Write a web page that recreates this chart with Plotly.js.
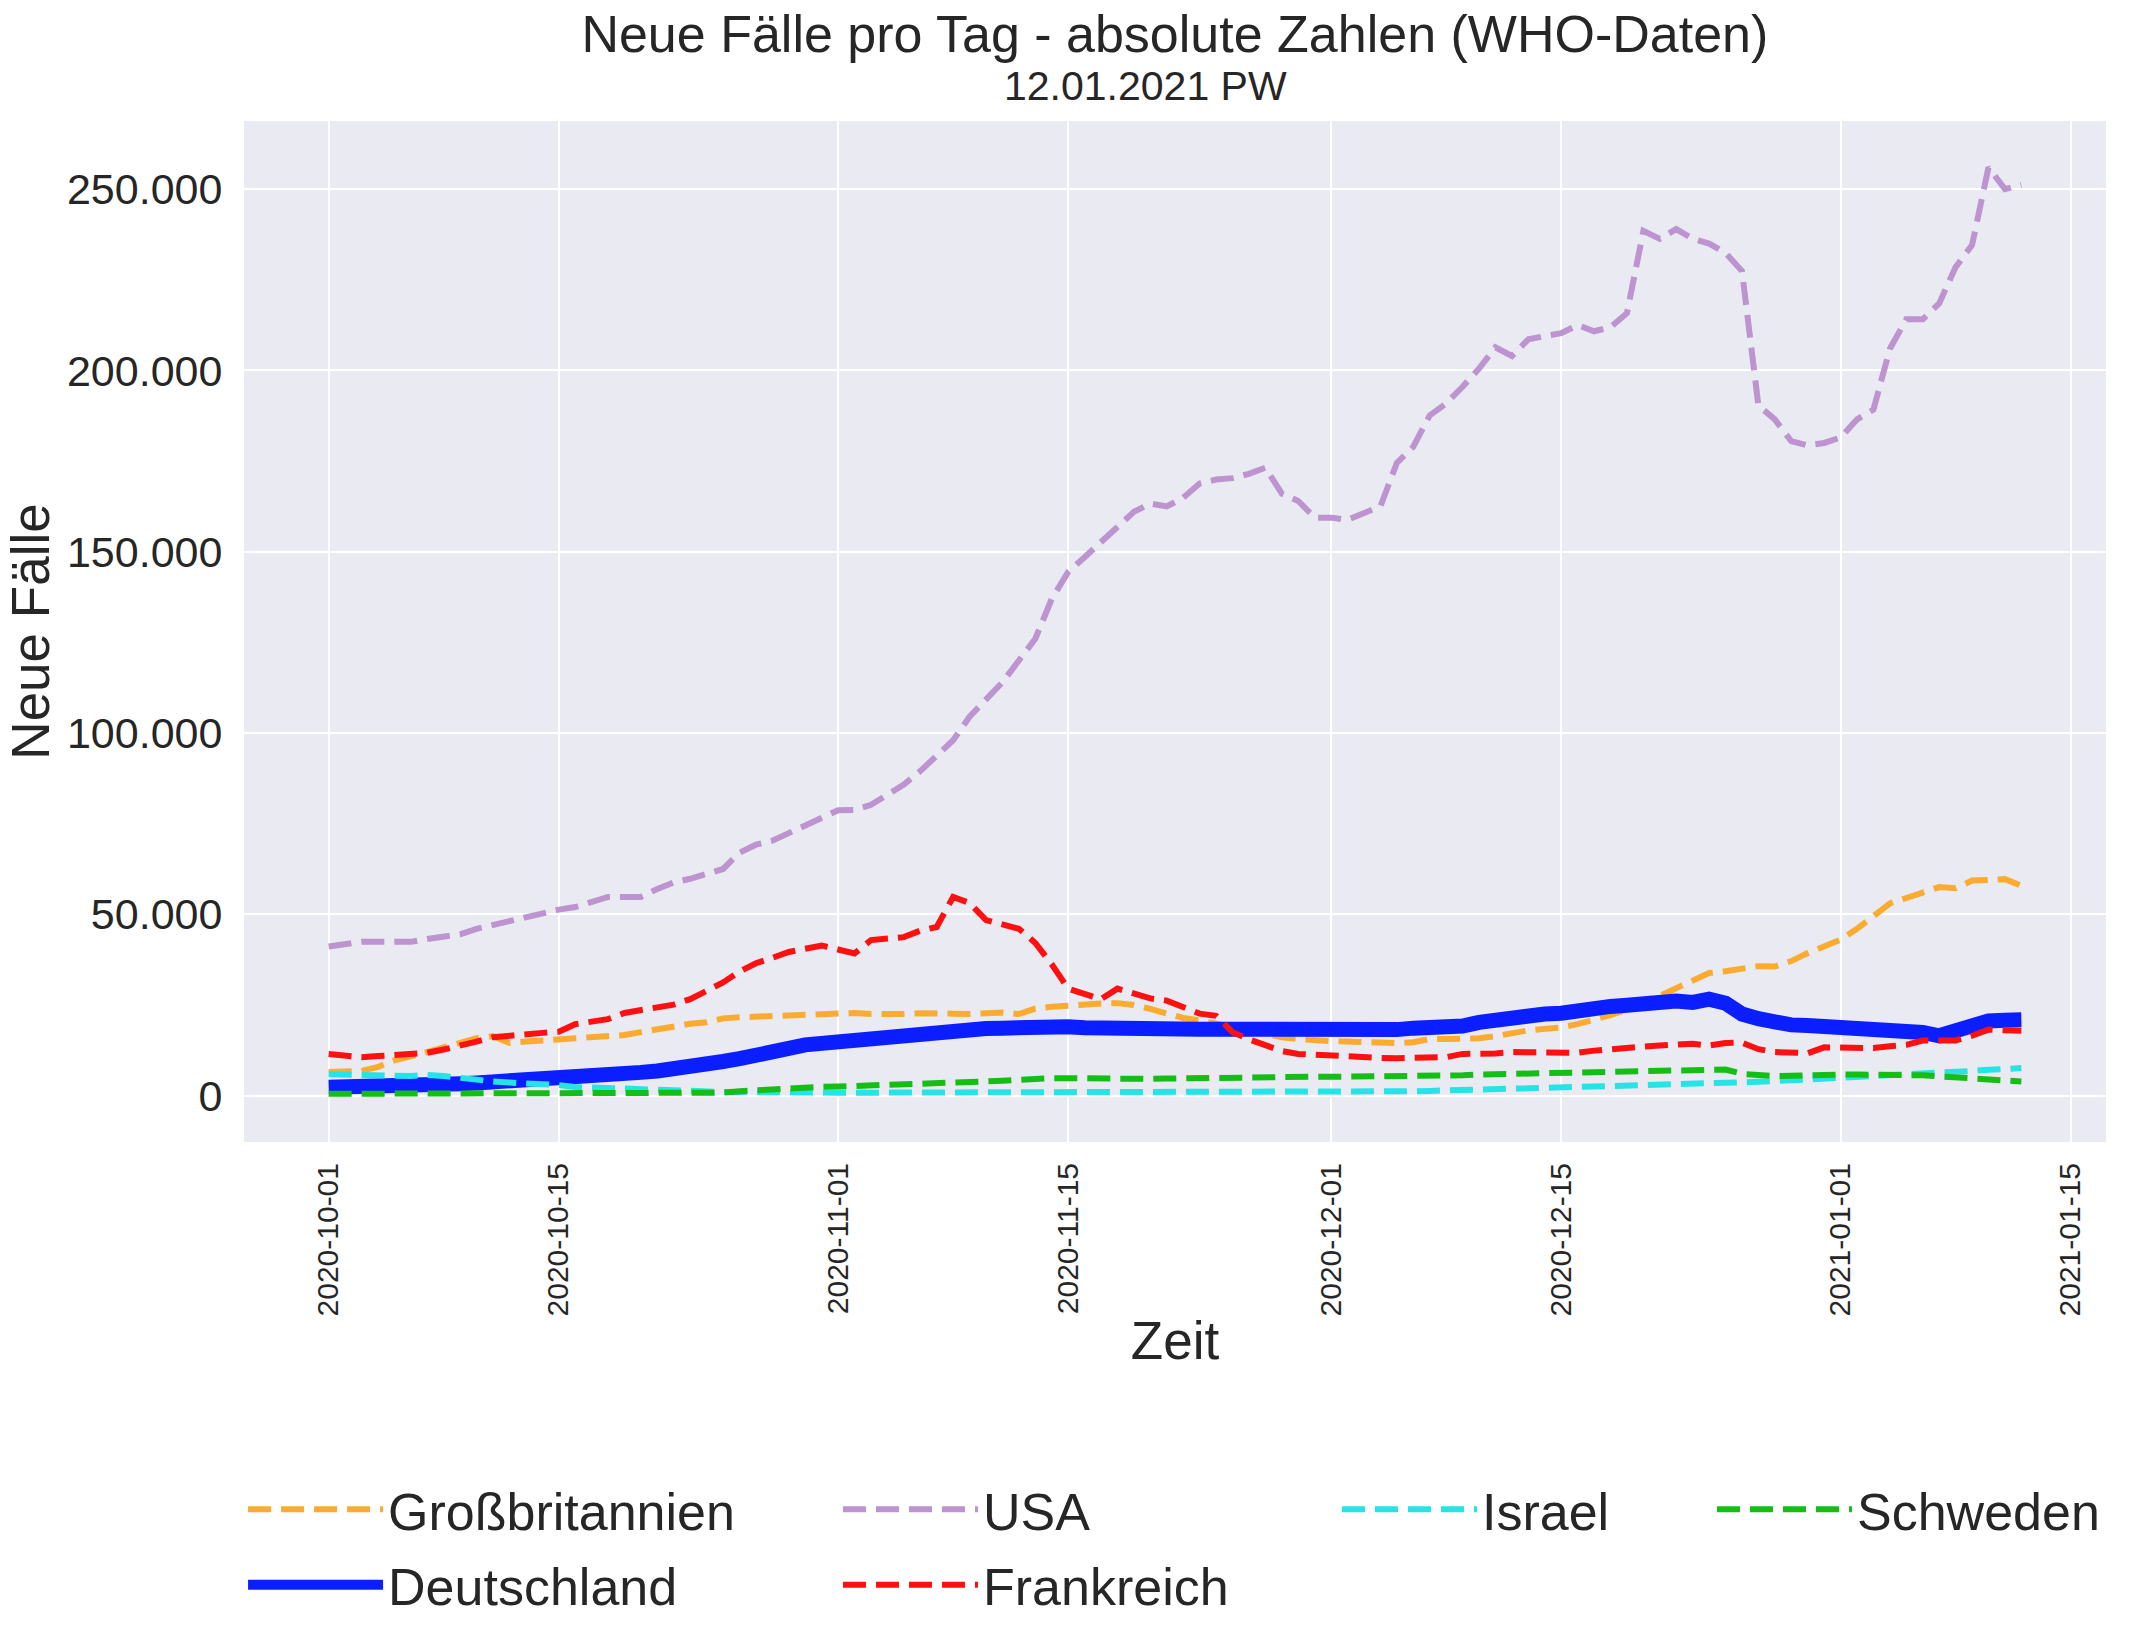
<!DOCTYPE html>
<html><head><meta charset="utf-8">
<script src="https://cdn.plot.ly/plotly-3.0.1.min.js"></script>
<style>html,body{margin:0;padding:0;background:#fff}</style>
</head><body><div id="chart" style="width:2140px;height:1652px"></div>
<script>
const dates = [
'2020-10-01','2020-10-02','2020-10-03','2020-10-04','2020-10-05','2020-10-06','2020-10-07','2020-10-08','2020-10-09','2020-10-10',
'2020-10-11','2020-10-12','2020-10-13','2020-10-14','2020-10-15','2020-10-16','2020-10-17','2020-10-18','2020-10-19','2020-10-20',
'2020-10-21','2020-10-22','2020-10-23','2020-10-24','2020-10-25','2020-10-26','2020-10-27','2020-10-28','2020-10-29','2020-10-30',
'2020-10-31','2020-11-01','2020-11-02','2020-11-03','2020-11-04','2020-11-05','2020-11-06','2020-11-07','2020-11-08','2020-11-09',
'2020-11-10','2020-11-11','2020-11-12','2020-11-13','2020-11-14','2020-11-15','2020-11-16','2020-11-17','2020-11-18','2020-11-19',
'2020-11-20','2020-11-21','2020-11-22','2020-11-23','2020-11-24','2020-11-25','2020-11-26','2020-11-27','2020-11-28','2020-11-29',
'2020-11-30','2020-12-01','2020-12-02','2020-12-03','2020-12-04','2020-12-05','2020-12-06','2020-12-07','2020-12-08','2020-12-09',
'2020-12-10','2020-12-11','2020-12-12','2020-12-13','2020-12-14','2020-12-15','2020-12-16','2020-12-17','2020-12-18','2020-12-19',
'2020-12-20','2020-12-21','2020-12-22','2020-12-23','2020-12-24','2020-12-25','2020-12-26','2020-12-27','2020-12-28','2020-12-29',
'2020-12-30','2020-12-31','2021-01-01','2021-01-02','2021-01-03','2021-01-04','2021-01-05','2021-01-06','2021-01-07','2021-01-08',
'2021-01-09','2021-01-10','2021-01-11','2021-01-12'];

const grossbritannien = [
6500,6600,6800,7900,9700,10800,12000,13200,14500,15800,
16400,14500,14900,15200,15600,15900,16200,16400,16700,17500,
18300,19300,19800,20200,21300,21600,21800,22000,22100,22200,
22800,22900,22800,22500,22400,22500,22700,22800,22600,22500,
22700,22900,22500,24000,24500,24900,25200,25400,25500,25000,
23900,22500,21400,20700,20000,19000,18000,17000,16100,15600,
15200,15000,14900,14700,14500,14500,14700,15600,15600,15600,
15800,16400,17300,18000,18400,18800,19700,20800,22200,23700,
26200,27500,29500,31600,33800,34300,34800,35700,35600,37100,
39300,41000,43000,46000,49500,53000,54500,55800,57500,57200,
59300,59500,59700,57900];

const deutschland = [
2300,2300,2400,2500,2600,2800,3000,3200,3300,3500,
3700,3900,4100,4300,4600,5000,5400,5800,6100,6400,
6800,7200,7600,8400,9400,10200,10800,11800,13000,14000,
14500,14900,15400,15900,16300,16800,17300,17900,18200,18400,
18500,18600,18900,19100,19000,19000,18700,18500,18400,18500,
18600,18500,18400,18300,18300,18200,18100,18000,18000,17900,
17800,17700,17700,17800,17900,18200,18600,18700,18800,19200,
20200,21000,21800,22200,22500,22700,23600,24100,24600,24900,
25400,25600,26100,25700,26600,25500,22500,21200,20200,19500,
19300,19100,18900,18600,18000,17800,17600,17400,16500,17900,
19700,20600,20800,20900];

const usa = [
41100,41800,42400,42400,42400,42400,43200,43800,44500,46000,
47100,48000,49500,50500,51300,52000,53500,54800,54800,54800,
57000,58800,59800,61000,62500,67000,69200,70300,72500,74700,
76800,78700,78800,80200,83000,85800,89500,93500,98000,104500,
109000,114000,120000,126000,137000,144400,148500,152700,156600,161000,
163300,162500,164900,168800,169900,170300,171500,173200,166000,164000,
159400,159400,158800,160500,162500,174500,179000,187600,190900,195500,
200500,206400,204000,208600,209500,210300,212500,210800,211900,215800,
238500,236300,239000,236300,235000,232400,227400,190300,186500,180500,
179300,180000,181500,186500,189200,206000,214100,214100,218500,228500,
234600,256000,250000,251200];

const frankreich = [
11500,11000,10600,10900,11100,11200,11800,12700,13600,14900,
16100,16600,17100,17300,17600,19700,20400,21100,22800,23600,
24300,25100,26600,28800,31200,34200,36500,38000,39600,40500,
41400,40300,39200,42900,43200,43700,45500,46500,54800,53100,
48400,47000,46000,42100,36200,29500,28000,26600,29500,28000,
26800,26200,24500,22600,22000,17500,15500,14000,12300,11500,
11200,11000,10800,10600,10400,10300,10400,10500,10600,11500,
11400,11600,12000,12000,12000,11900,11800,12400,12900,13300,
13500,13800,14000,14300,13800,14500,14600,12800,12000,11800,
11700,13300,13200,13100,13100,13600,14000,15200,15200,15200,
16500,18200,18000,17900];

const israel = [
5900,5900,5900,5700,5500,5400,5700,5400,4800,4400,
3900,3600,3400,3300,2900,2400,2200,2000,1800,1600,
1400,1300,1200,1100,1000,1000,900,900,800,800,
800,800,800,800,800,800,800,800,800,800,
800,800,800,800,800,800,900,900,900,900,
900,900,900,900,900,900,900,900,900,900,
900,1000,1000,1100,1100,1200,1200,1300,1500,1600,
1700,1800,1900,2000,2100,2200,2300,2400,2500,2600,
2700,2800,3000,3100,3300,3500,3700,3800,4000,4200,
4400,4600,4800,5000,5200,5500,5800,6000,6300,6500,
6800,7100,7400,7600];

const schweden = [
500,500,500,500,500,500,500,500,500,500,
500,500,500,500,500,600,600,600,600,600,
600,700,700,700,800,1200,1500,1700,1900,2100,
2400,2500,2700,2800,3000,3100,3300,3500,3600,3800,
3900,4100,4400,4600,4800,4800,4700,4600,4500,4500,
4600,4700,4800,4800,5000,5100,5100,5200,5200,5200,
5200,5200,5200,5200,5200,5300,5300,5400,5400,5600,
5800,5900,6000,6200,6200,6300,6300,6400,6500,6500,
6600,6700,6800,6800,7000,7200,6000,5600,5400,5500,
5700,5800,5800,5800,5800,5800,5800,5600,5300,5100,
4900,4600,4200,3900];

const xTickVals = ['2020-10-01','2020-10-15','2020-11-01','2020-11-15','2020-12-01','2020-12-15','2021-01-01','2021-01-15'];
const yTickVals = [0,50000,100000,150000,200000,250000];
const titleText = 'Neue Fälle pro Tag - absolute Zahlen (WHO-Daten)';
const subtitleText = '12.01.2021 PW';

const FONT = '"Liberation Sans", Arial, Helvetica, sans-serif';
const TXT = '#262626';
const DASH = '23px,10px';
const LW = 6;

const traces = [
  {name:'Großbritannien', x:dates, y:grossbritannien, type:'scatter', mode:'lines',
   line:{color:'#FBAB2F', width:LW, dash:DASH}, legend:'legend', legendgroup:'gb', legendrank:1},
  {name:'Deutschland', x:dates, y:deutschland, type:'scatter', mode:'lines',
   line:{color:'#0A1EFF', width:15}, legend:'legend', legendgroup:'de', legendrank:2},
  {name:'USA', x:dates, y:usa, type:'scatter', mode:'lines',
   line:{color:'#BD93D0', width:LW, dash:DASH}, legend:'legend2', legendgroup:'us', legendrank:1},
  {name:'Frankreich', x:dates, y:frankreich, type:'scatter', mode:'lines',
   line:{color:'#FF1010', width:LW, dash:DASH}, legend:'legend2', legendgroup:'fr', legendrank:2},
  {name:'Israel', x:dates, y:israel, type:'scatter', mode:'lines',
   line:{color:'#26E3E6', width:LW, dash:DASH}, legend:'legend3', legendgroup:'il'},
  {name:'Schweden', x:dates, y:schweden, type:'scatter', mode:'lines',
   line:{color:'#14BE14', width:LW, dash:DASH}, legend:'legend4', legendgroup:'se'}
];

function leg(x){
  return {x:x, y:-0.3202, xanchor:'left', yanchor:'top', orientation:'v',
    bgcolor:'rgba(0,0,0,0)', borderwidth:0, font:{family:FONT, size:52, color:TXT},
    itemwidth:135, tracegroupgap:5, traceorder:'grouped'};
}

const layout = {
  width:2140, height:1652,
  paper_bgcolor:'#ffffff', plot_bgcolor:'#EAEAF2',
  separators:',.',
  font:{family:FONT, color:TXT},
  margin:{l:244, r:34, t:121, b:510, pad:0},
  showlegend:true,
  title:{text:titleText,
    font:{family:FONT, size:52, color:TXT},
    x:0.549, xanchor:'center', xref:'container', yref:'container', y:0.9903, yanchor:'top'},
  annotations:[{text:subtitleText, xref:'paper', yref:'paper', x:0.4844, y:1.0097,
    xanchor:'center', yanchor:'bottom', showarrow:false,
    font:{family:FONT, size:41, color:TXT}}],
  xaxis:{type:'date', range:['2020-09-25 20:24','2021-01-17 03:36'],
    tickvals:xTickVals, tickformat:'%Y-%m-%d', tickangle:-90,
    tickfont:{family:FONT, size:30, color:TXT},
    ticks:'outside', ticklen:8, tickcolor:'rgba(0,0,0,0)',
    showgrid:true, gridcolor:'#ffffff', gridwidth:2, zeroline:false, showline:false,
    automargin:false,
    title:{text:'Zeit', font:{family:FONT, size:53, color:TXT}, standoff:6}},
  yaxis:{range:[-12800,268800], tickvals:yTickVals, tickformat:',.0f',
    tickfont:{family:FONT, size:43, color:TXT},
    ticks:'outside', ticklen:12, tickcolor:'rgba(0,0,0,0)',
    showgrid:true, gridcolor:'#ffffff', gridwidth:2, zeroline:false, showline:false,
    automargin:false,
    title:{text:'Neue Fälle', font:{family:FONT, size:53, color:TXT}, standoff:0}},
  legend:leg(-0.0005),
  legend2:leg(0.3190),
  legend3:leg(0.5870),
  legend4:leg(0.7884)
};

Plotly.newPlot('chart', traces, layout, {displayModeBar:false, staticPlot:true});
</script></body></html>
